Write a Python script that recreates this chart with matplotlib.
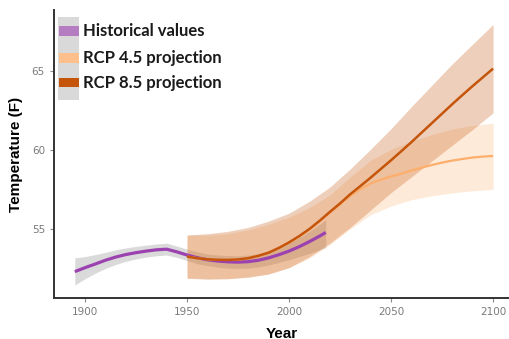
import matplotlib
matplotlib.use("Agg")
import matplotlib.pyplot as plt
from matplotlib.patches import Rectangle

# historical smoothed temperature (F)
hist_years = [1895, 1900, 1905, 1910, 1915, 1920, 1925, 1930, 1935, 1940, 1945,
              1950, 1955, 1960, 1965, 1970, 1975, 1980, 1985, 1990, 1995, 2000,
              2005, 2010, 2015, 2018]
hist_temp = [52.30, 52.55, 52.78, 53.02, 53.22, 53.38, 53.50, 53.60, 53.68, 53.72, 53.55,
             53.35, 53.18, 53.05, 52.97, 52.92, 52.90, 52.93, 53.02, 53.17, 53.37, 53.60,
             53.88, 54.20, 54.55, 54.78]
hist_lo = [51.45, 51.85, 52.20, 52.50, 52.75, 52.95, 53.10, 53.22, 53.30, 53.35, 53.20,
           53.00, 52.80, 52.68, 52.58, 52.52, 52.50, 52.52, 52.60, 52.72, 52.88, 53.05,
           53.25, 53.45, 53.68, 53.82]
hist_hi = [53.18, 53.25, 53.38, 53.52, 53.68, 53.80, 53.90, 53.98, 54.05, 54.10, 53.92,
           53.72, 53.55, 53.42, 53.35, 53.32, 53.30, 53.35, 53.45, 53.62, 53.85, 54.12,
           54.45, 54.85, 55.30, 55.60]

# projections
proj_years = [1950, 1955, 1960, 1965, 1970, 1975, 1980, 1985, 1990, 1995, 2000,
              2005, 2010, 2015, 2020, 2025, 2030, 2035, 2040, 2045, 2050, 2055,
              2060, 2065, 2070, 2075, 2080, 2085, 2090, 2095, 2100]
rcp45_temp = [53.25, 53.15, 53.08, 53.05, 53.04, 53.07, 53.15, 53.30, 53.50, 53.78, 54.12,
              54.52, 54.97, 55.50, 56.02, 56.55, 57.10, 57.52, 57.88, 58.12, 58.32, 58.50,
              58.70, 58.88, 59.05, 59.20, 59.33, 59.43, 59.52, 59.58, 59.62]
rcp85_temp = [53.25, 53.15, 53.08, 53.05, 53.04, 53.07, 53.15, 53.30, 53.50, 53.80, 54.15,
              54.55, 55.00, 55.52, 56.08, 56.62, 57.20, 57.72, 58.25, 58.80, 59.35, 59.92,
              60.50, 61.10, 61.70, 62.30, 62.90, 63.48, 64.05, 64.60, 65.15]

band_years = [1950, 1960, 1970, 1980, 1990, 2000, 2010, 2020, 2030, 2040, 2050,
              2060, 2070, 2080, 2090, 2100]
rcp45_lo = [51.90, 51.85, 51.85, 51.95, 52.15, 52.55, 53.15, 54.00, 55.00, 55.90, 56.45,
            56.85, 57.10, 57.28, 57.42, 57.50]
rcp45_hi = [54.60, 54.60, 54.70, 54.95, 55.30, 55.75, 56.35, 57.15, 58.30, 59.35, 60.05,
            60.55, 60.98, 61.33, 61.55, 61.70]
rcp85_lo = [51.88, 51.82, 51.85, 51.95, 52.15, 52.55, 53.25, 54.10, 55.10, 56.20, 57.30,
            58.30, 59.30, 60.30, 61.30, 62.35]
rcp85_hi = [54.62, 54.70, 54.85, 55.10, 55.50, 56.00, 56.75, 57.65, 58.80, 60.05, 61.35,
            62.75, 64.10, 65.45, 66.70, 67.95]

labels = ["Historical values", "RCP 4.5 projection", "RCP 8.5 projection"]
colors = ["#9b42b0", "#fdae6b", "#c4550b"]
key_colors = ["#b57cc2", "#fdc08c", "#c4550b"]

fig = plt.figure(figsize=(5.09, 3.39), dpi=100)
ax = fig.add_axes([54 / 509, 41 / 339, 455 / 509, 288 / 339])

# ribbons and lines drawn group by group
ax.fill_between(hist_years, hist_lo, hist_hi, color="#bdbdbd", alpha=0.55, lw=0)
ax.plot(hist_years, hist_temp, color=colors[0], lw=2.3, solid_capstyle="butt")
ax.fill_between(band_years, rcp45_lo, rcp45_hi, color=colors[1], alpha=0.25, lw=0)
ax.plot(proj_years, rcp45_temp, color=colors[1], lw=1.6, solid_capstyle="butt")
ax.fill_between(band_years, rcp85_lo, rcp85_hi, color=colors[2], alpha=0.28, lw=0)
ax.plot(proj_years, rcp85_temp, color=colors[2], lw=1.8, solid_capstyle="butt")

ax.set_xlim(1884.8, 2107.8)
ax.set_ylim(50.63, 68.86)
ax.set_xticks([1900, 1950, 2000, 2050, 2100])
ax.set_yticks([55, 60, 65])
for s in ["top", "right"]:
    ax.spines[s].set_visible(False)
for s in ["left", "bottom"]:
    ax.spines[s].set_color("#333333")
    ax.spines[s].set_linewidth(1.4)
ax.tick_params(colors="#8a8a8a", labelsize=7.5, length=3, width=0.8,
               labelcolor="#7a7a7a")

ax.set_ylabel("Temperature (F)", fontsize=11, fontweight="bold",
              family="Liberation Sans", labelpad=6)
ax.set_xlabel("Year", fontsize=11, fontweight="bold",
              family="Liberation Sans", labelpad=7)

# legend block: grey key column with coloured keys
W, H = 509.0, 339.0
fig.add_artist(Rectangle((58 / W, 1 - 100 / H), 21 / W, 83 / H,
                         transform=fig.transFigure, color="#d9d9d9", lw=0))
key_tops = [26, 53, 78]
for top, kc, lab in zip(key_tops, key_colors, labels):
    fig.add_artist(Rectangle((59 / W, 1 - (top + 9.5) / H), 20 / W, 9.5 / H,
                             transform=fig.transFigure, color=kc, lw=0))
    fig.text(83 / W, 1 - (top + 5) / H, lab, fontsize=12, fontweight="bold",
             family="Lato", va="center", ha="left", color="#1a1a1a")

fig.savefig("out.png", dpi=100)
